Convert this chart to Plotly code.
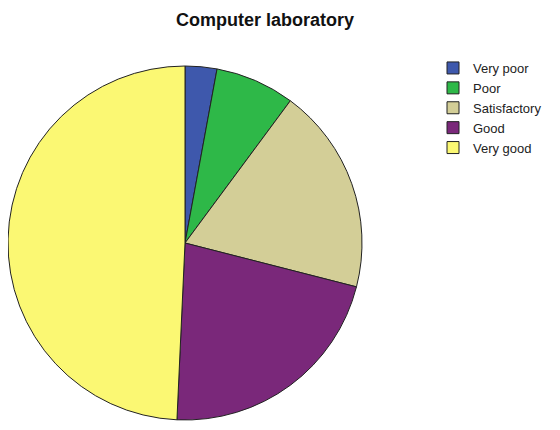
import plotly.graph_objects as go

# Categorias e contagens
labels = ["Very poor", "Poor", "Satisfactory", "Good", "Very good"]
counts = [4, 10, 26, 30, 68]
colors = ["#3E58AC", "#2EB848", "#D3CE97", "#7A287A", "#FBF873"]

W, H = 560, 430

fig = go.Figure()
fig.add_trace(go.Pie(
    labels=labels,
    values=counts,
    sort=False,
    direction="clockwise",
    rotation=0,
    textinfo="none",
    hoverinfo="label+value+percent",
    marker=dict(colors=colors, line=dict(color="#222222", width=1)),
    domain=dict(x=[0, 354 / W], y=[1 - 413 / H, 1 - 57 / H]),
))

fig.update_layout(
    width=W,
    height=H,
    margin=dict(l=0, r=0, t=0, b=0, autoexpand=False),
    paper_bgcolor="white",
    plot_bgcolor="white",
    font=dict(family="Liberation Sans, Arial, sans-serif", color="#111111"),
    title=dict(
        text="<b>Computer laboratory</b>",
        x=257 / W,
        xanchor="center",
        y=1 - 12 / H,
        yanchor="middle",
        font=dict(size=18, color="#111111"),
    ),
    legend=dict(
        x=425 / W,
        y=1 - 45 / H,
        xanchor="left",
        yanchor="top",
        font=dict(size=13, color="#222222"),
        tracegroupgap=0,
        itemwidth=30,
        bgcolor="rgba(0,0,0,0)",
    ),
)

fig.write_html("out.html")
